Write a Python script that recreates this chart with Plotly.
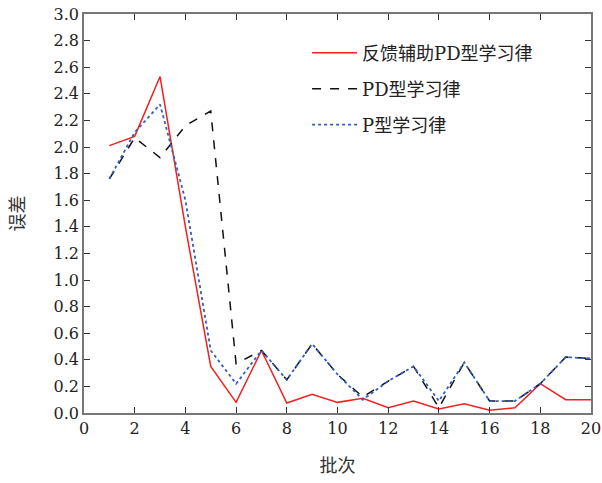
import plotly.graph_objects as go

batches = list(range(1, 21))
fb_pd = [2.01, 2.08, 2.53, 1.40, 0.35, 0.08, 0.47, 0.075, 0.14, 0.08,
         0.11, 0.04, 0.09, 0.03, 0.07, 0.02, 0.04, 0.22, 0.10, 0.10]
pd_law = [1.76, 2.07, 1.92, 2.16, 2.27, 0.37, 0.47, 0.25, 0.52, 0.29,
          0.12, 0.24, 0.35, 0.04, 0.38, 0.09, 0.09, 0.22, 0.42, 0.41]
p_law = [1.76, 2.11, 2.32, 1.60, 0.47, 0.22, 0.47, 0.25, 0.52, 0.29,
         0.10, 0.24, 0.35, 0.09, 0.38, 0.09, 0.09, 0.22, 0.42, 0.41]
names = ["反馈辅助PD型学习律", "PD型学习律", "P型学习律"]
x_ticks = list(range(0, 21, 2))
y_ticks = [round(i * 0.2, 1) for i in range(16)]

SERIF = "DejaVu Serif"
MIXED = "DejaVu Serif, Noto Sans CJK SC"

fig = go.Figure()
fig.add_trace(go.Scatter(x=batches, y=fb_pd, mode="lines", name=names[0], legend="legend",
                         line=dict(color="#f02020", width=1.5)))
fig.add_trace(go.Scatter(x=batches, y=pd_law, mode="lines", name=names[1], legend="legend2",
                         line=dict(color="#111111", width=1.5, dash="dash")))
fig.add_trace(go.Scatter(x=batches, y=p_law, mode="lines", name=names[2], legend="legend3",
                         line=dict(color="#2f5fbf", width=1.8, dash="dot")))

axis_common = dict(showline=True, linecolor="#777777", linewidth=1.5, mirror="ticks",
                   ticks="inside", ticklen=6, tickcolor="#333333", tickwidth=1,
                   showgrid=False, zeroline=False, automargin=False,
                   tickfont=dict(family=SERIF, size=16, color="#222222"))

def leg(y):
    return dict(x=0.44, y=y, xanchor="left", yanchor="middle",
                bgcolor="rgba(0,0,0,0)", borderwidth=0, itemwidth=45,
                font=dict(family=MIXED, size=18, color="#222222"))

fig.update_layout(
    width=602, height=483,
    margin=dict(l=84, r=11, t=14, b=70),
    plot_bgcolor="white", paper_bgcolor="white",
    font=dict(family=MIXED, color="#222222"),
    showlegend=True,
    legend=leg(0.902), legend2=leg(0.812), legend3=leg(0.722),
    xaxis=dict(range=[0, 20], tickvals=x_ticks,
               title=dict(text="批次", font=dict(family=MIXED, size=18, color="#333333"), standoff=22),
               **axis_common),
    yaxis=dict(range=[0, 3.0], tickvals=y_ticks, tickformat=".1f",
               title=dict(text="误差", font=dict(family=MIXED, size=18, color="#333333"), standoff=24),
               **axis_common),
)

fig.write_html("out.html")
